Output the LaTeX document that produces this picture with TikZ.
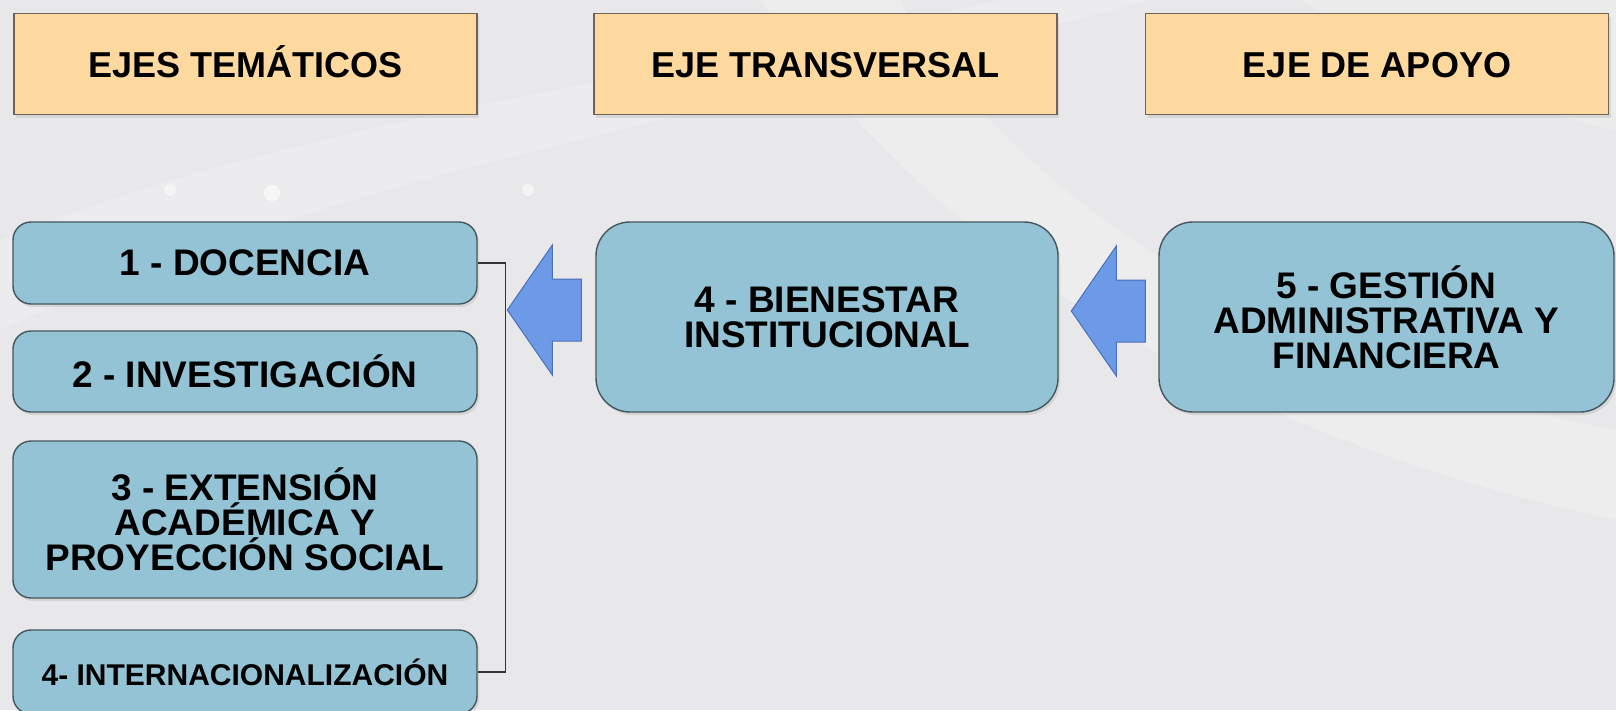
\documentclass[tikz,border=0pt]{standalone}
\usepackage{fontspec}
\setmainfont{Liberation Sans}
\usetikzlibrary{calc,shadows}
\definecolor{bgc}{HTML}{E8E8EA}
\definecolor{hdrfill}{HTML}{FDD89F}
\definecolor{hdrline}{HTML}{6E6355}
\definecolor{boxfill}{HTML}{93C3D5}
\definecolor{boxline}{HTML}{44565E}
\definecolor{arrfill}{HTML}{6C9AE6}
\definecolor{arrline}{HTML}{4A70BA}
\begin{document}
\begin{tikzpicture}[x=1pt,y=-1pt,
  hdr/.style={draw=hdrline, line width=1.6pt, fill=hdrfill, minimum width=463pt, minimum height=101pt,
    inner sep=0pt, text height=26pt, text depth=0pt, font=\fontsize{36}{36}\selectfont\bfseries,
    drop shadow={shadow xshift=2pt, shadow yshift=-3pt, opacity=0.18}},
  axbox/.style={draw=boxline, line width=1.4pt, fill=boxfill, rounded corners=18pt, inner sep=0pt,
    align=center, minimum width=464pt, font=\fontsize{37}{35}\selectfont\bfseries,
    drop shadow={shadow xshift=2pt, shadow yshift=-3pt, opacity=0.18}},
  bigbox/.style={axbox, rounded corners=34pt},
  bracket/.style={draw=black!80, line width=1.3pt},
  arrstyle/.style={fill=arrfill, draw=arrline, line width=1pt, line join=miter},
  larrow/.pic={\path[arrstyle] (0,0) -- (45,-65) -- (45,-31) -- (74,-31) -- (74,31) -- (45,31) -- (45,65) -- cycle;}
]
% background
\fill[bgc] (0,0) rectangle (1616,710);
\fill[white, opacity=0.22] (760,0) .. controls (900,200) and (1150,420) .. (1616,520) -- (1616,430) .. controls (1250,360) and (1000,180) .. (900,0) -- cycle;
\fill[white, opacity=0.2] (0,240) .. controls (300,120) and (600,90) .. (1000,0) -- (1150,0) .. controls (700,120) and (350,170) .. (0,330) -- cycle;
\fill[white, opacity=0.18] (1300,0) .. controls (1450,80) and (1560,120) .. (1616,130) -- (1616,0) -- cycle;
\fill[white, opacity=0.5] (170,190) circle (6);
\fill[white, opacity=0.6] (272,193) circle (8);
\fill[white, opacity=0.5] (528,190) circle (6);
\useasboundingbox (0,0) rectangle (1616,710);

% headers
\node[hdr] (h1) at (245.5,64) {EJES TEMÁTICOS};
\node[hdr] (h2) at (825.5,64) {EJE TRANSVERSAL};
\node[hdr] (h3) at (1377,64) {EJE DE APOYO};

% left column
\node[axbox, minimum height=82pt] (b1) at (245,263) {1 - DOCENCIA};
\node[axbox, minimum height=81pt] (b2) at (245,371.5) {2 - INVESTIGACIÓN};
\node[axbox, minimum height=157pt] (b3) at (245,519.5) {3 - EXTENSIÓN\\ACADÉMICA Y\\PROYECCIÓN SOCIAL};
\node[axbox, minimum height=84pt, font=\fontsize{30}{30}\selectfont\bfseries] (b4) at (245,672) {4- INTERNACIONALIZACIÓN};

% middle and right
\node[bigbox, minimum width=462pt, minimum height=190pt] (mid) at (827,317) {4 - BIENESTAR\\INSTITUCIONAL};
\node[bigbox, minimum width=455pt, minimum height=190pt] (rgt) at (1386.5,317) {5 - GESTIÓN\\ADMINISTRATIVA Y\\FINANCIERA};

% bracket
\draw[bracket] (b1.east) -- ++(28,0) |- (b4.east);

% block arrows
\pic at ($(mid.west)+(-88,-7)$) {larrow};
\pic at ($(rgt.west)+(-87,-6)$) {larrow};
\end{tikzpicture}
\end{document}
